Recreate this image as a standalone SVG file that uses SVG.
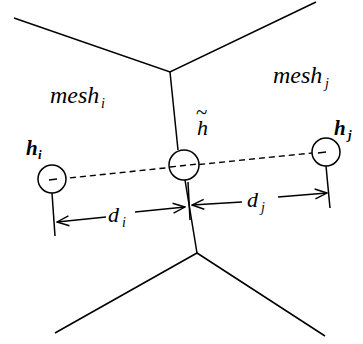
<svg xmlns="http://www.w3.org/2000/svg" width="363" height="344" viewBox="0 0 363 344">
<defs>
<style>
.ln{stroke:#000;stroke-width:1.5;fill:none}
.dash{stroke:#000;stroke-width:1.4;stroke-dasharray:6,4;fill:none}
.c{stroke:#000;stroke-width:1.5;fill:#fff}
.t{font-family:'Liberation Serif','Times New Roman',serif;font-style:italic;fill:#000}
</style>
<marker id="ah" viewBox="0 0 14 12" refX="13" refY="6" markerWidth="14" markerHeight="12" markerUnits="userSpaceOnUse" orient="auto-start-reverse">
<polyline points="1,1 13,6 1,11" fill="none" stroke="#000" stroke-width="1.4"/>
</marker>
</defs>
<rect width="363" height="344" fill="#fff"/>
<g id="edges">
<polyline class="ln" points="14,18 170,72 316,2"/>
<polyline class="ln" points="170,72 178,150"/>
<polyline class="ln" points="55,333 197,253 325,336"/>
<polyline class="ln" points="185,180 197,253"/>
<line class="ln" x1="188" y1="182" x2="190" y2="220"/>
<line class="ln" x1="52" y1="193" x2="55" y2="236"/>
<line class="ln" x1="326" y1="166" x2="330" y2="208"/>
<polyline class="dash" points="50,180 184,166 322,152"/>
<line class="ln" x1="106" y1="217" x2="57" y2="222" marker-end="url(#ah)"/>
<line class="ln" x1="135" y1="212" x2="185" y2="207" marker-end="url(#ah)"/>
<line class="ln" x1="242" y1="202" x2="192" y2="205" marker-end="url(#ah)"/>
<line class="ln" x1="278" y1="197" x2="327" y2="193" marker-end="url(#ah)"/>
</g>
<g id="node-hi">
<circle class="c" cx="52" cy="179" r="14"/>
<line class="ln" x1="49" y1="180" x2="57" y2="179"/>
<text class="t" x="26" y="155" font-size="21" font-weight="bold">h</text>
<text class="t" x="38" y="159" font-size="13" font-weight="bold">i</text>
</g>
<g id="node-htilde">
<circle class="c" cx="184" cy="165" r="15"/>
<line class="dash" x1="170" y1="167" x2="198" y2="164"/>
<text class="t" x="197" y="135" font-size="22">h<tspan x="196" y="119" font-size="21" font-style="normal">~</tspan></text>
</g>
<g id="node-hj">
<circle class="c" cx="326" cy="152" r="14"/>
<line class="ln" x1="318" y1="153" x2="326" y2="152"/>
<text class="t" x="334" y="135" font-size="21" font-weight="bold">h</text>
<text class="t" x="348" y="139" font-size="13" font-weight="bold">j</text>
</g>
<g id="labels">
<text class="t" x="50" y="103" font-size="24">mesh</text>
<text class="t" x="101" y="108" font-size="14">i</text>
<text class="t" x="273" y="83" font-size="24">mesh</text>
<text class="t" x="325" y="88" font-size="14">j</text>
<text class="t" x="108" y="222" font-size="22">d</text>
<text class="t" x="122" y="227" font-size="14">i</text>
<text class="t" x="247" y="207" font-size="22">d</text>
<text class="t" x="261" y="212" font-size="14">j</text>
</g>
</svg>
